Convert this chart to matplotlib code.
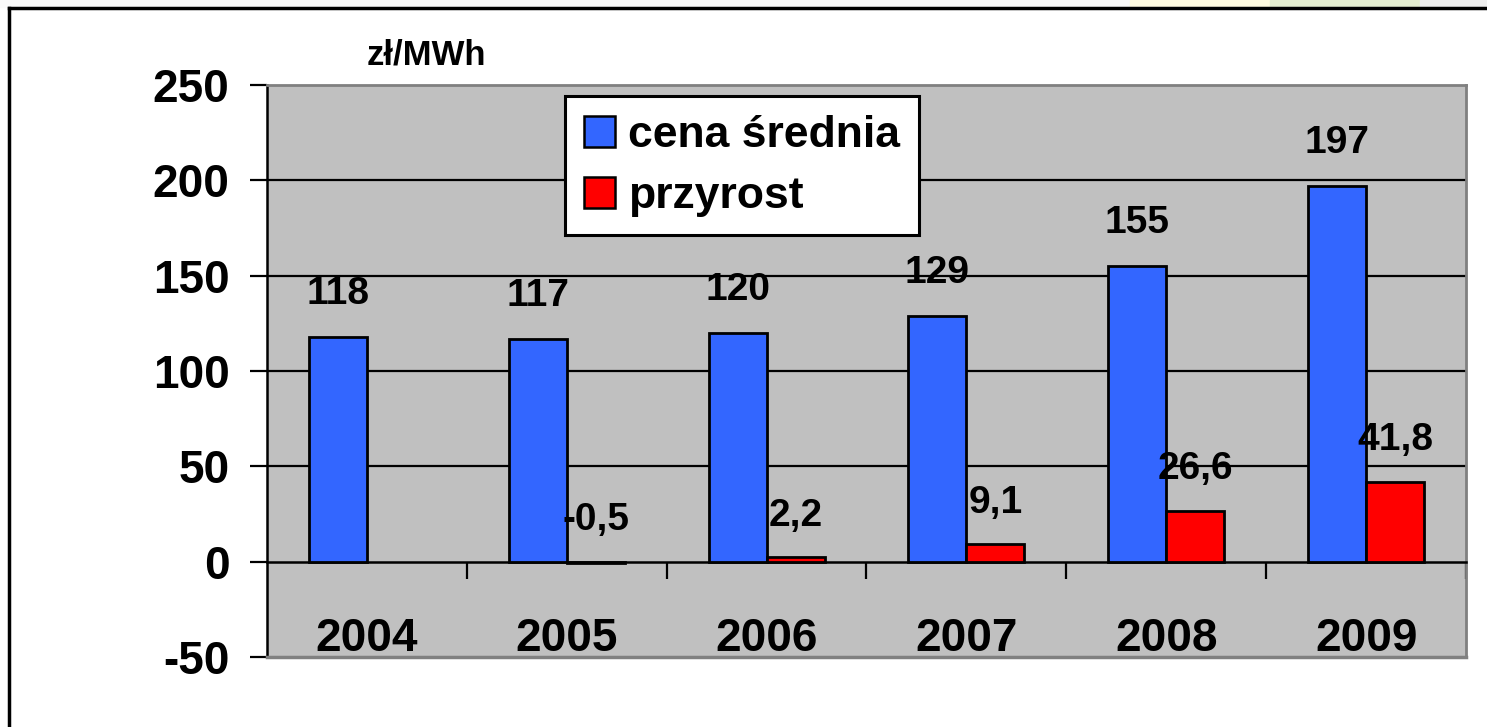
import matplotlib.pyplot as plt
import numpy as np
from matplotlib.lines import Line2D
from matplotlib.patches import Rectangle, Patch

# dane
lata = ['2004', '2005', '2006', '2007', '2008', '2009']
cena_srednia = [118, 117, 120, 129, 155, 197]
przyrost = [np.nan, -0.5, 2.2, 9.1, 26.6, 41.8]

niebieski = '#3366FF'
czerwony = '#FF0000'
szary = '#C0C0C0'

plt.rcParams['font.family'] = ['Liberation Sans', 'DejaVu Sans']
plt.rcParams['font.weight'] = 'bold'
plt.rcParams['axes.unicode_minus'] = False

fig = plt.figure(figsize=(14.87, 7.27), dpi=100)
W, H = 1487, 727

# tlo slajdu nad ramka
for x0, x1, c in [(0, 1130, '#FAFAFA'), (1130, 1270, '#FFFBE0'),
                  (1270, 1420, '#E4EED0'), (1420, 1487, '#EFEFEF')]:
    fig.patches.append(Rectangle((x0 / W, 1 - 7 / H), (x1 - x0) / W, 7 / H,
                                 transform=fig.transFigure, color=c, zorder=0))
# ramka
fig.lines.append(Line2D([9 / W, 9 / W], [0, 1 - 8 / H], transform=fig.transFigure, color='black', lw=2.5))
fig.lines.append(Line2D([9 / W, 1], [1 - 8 / H, 1 - 8 / H], transform=fig.transFigure, color='black', lw=2.5))

ax = fig.add_axes([267 / W, 1 - 657 / H, (1466 - 267) / W, (657 - 85) / H])
ax.set_facecolor(szary)

x = np.arange(len(lata))
w = 0.29
ax.bar(x - w / 2, cena_srednia, w, color=niebieski, edgecolor='black', linewidth=2, zorder=3)
ax.bar(x + w / 2, przyrost, w, color=czerwony, edgecolor='black', linewidth=2, zorder=3)

for xi, v in zip(x, cena_srednia):
    ax.annotate(str(v), (xi - w / 2, v), xytext=(0, 31), textcoords='offset points',
                ha='center', va='center', fontsize=28, fontweight='bold', zorder=5)
for xi, v in zip(x, przyrost):
    if np.isnan(v):
        continue
    ax.annotate(('%.1f' % v).replace('.', ','), (xi + w / 2, max(v, 0)), xytext=(0, 30),
                textcoords='offset points', ha='center', va='center', fontsize=28,
                fontweight='bold', zorder=5)

ax.set_ylim(-50, 250)
ax.set_xlim(-0.5, len(lata) - 0.5)
ax.set_yticks(range(-50, 251, 50))
ax.tick_params(axis='y', length=12, width=1.6, pad=15, labelsize=33)

ax.set_xticks(x)
ax.set_xticklabels(lata)
ax.set_xticks(np.arange(0.5, len(lata), 1), minor=True)
ax.tick_params(axis='x', which='major', length=0, pad=40, labelsize=33)
ax.tick_params(axis='x', which='minor', length=12, width=1.6, direction='out')
for t in ax.get_xticklabels() + ax.get_yticklabels():
    t.set_fontweight('bold')

ax.spines['bottom'].set_position(('data', 0))
ax.spines['bottom'].set_linewidth(1.8)
ax.spines['left'].set_linewidth(1.8)
ax.spines['top'].set_color('#808080')
ax.spines['right'].set_color('#808080')
ax.spines['top'].set_linewidth(2)
ax.spines['right'].set_linewidth(2)
ax.axhline(-50, color='#808080', lw=2.5, zorder=4, clip_on=False)

for g in [50, 100, 150, 200]:
    ax.axhline(g, color='black', lw=1.6, zorder=1)

fig.text(426 / W, 1 - 55 / H, 'zł/MWh', ha='center', va='center', fontsize=25, fontweight='bold')

uchwyty = [Patch(facecolor=niebieski, edgecolor='black', linewidth=1.8, label='cena średnia'),
           Patch(facecolor=czerwony, edgecolor='black', linewidth=1.8, label='przyrost')]
leg = ax.legend(handles=uchwyty, loc='upper left', bbox_to_anchor=(565 / W, 1 - 96 / H),
                bbox_transform=fig.transFigure, borderaxespad=0,
                prop={'weight': 'bold', 'size': 32}, handlelength=0.7, handleheight=0.7,
                handletextpad=0.3, labelspacing=0.45, borderpad=0.42, fancybox=False,
                framealpha=1, edgecolor='black')
leg.get_frame().set_linewidth(2.2)
leg.set_zorder(6)

fig.savefig('out.png', dpi=100)
